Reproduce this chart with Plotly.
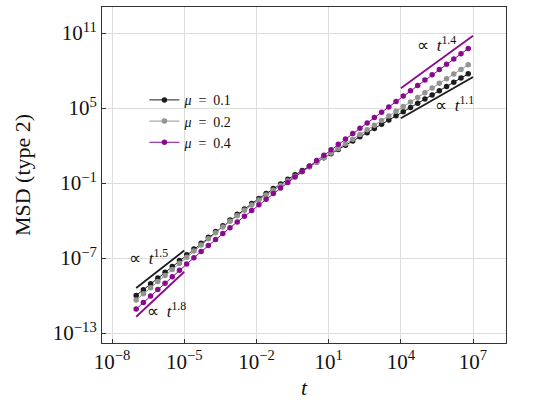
import plotly.graph_objects as go

# log10 of time points
log_t = [-7.0, -6.7, -6.4, -6.1, -5.8, -5.5, -5.2, -4.9, -4.6, -4.3, -4.0, -3.7, -3.4, -3.1,
         -2.8, -2.5, -2.2, -1.9, -1.6, -1.3, -1.0, -0.7, -0.4, -0.1, 0.2, 0.5, 0.8, 1.1,
         1.4, 1.7, 2.0, 2.3, 2.6, 2.9, 3.2, 3.5, 3.8, 4.1, 4.4, 4.7, 5.0, 5.3, 5.6, 5.9,
         6.2, 6.5, 6.8]

# log10 of MSD for each mu
log_msd_01 = [-10.00, -9.54, -9.07, -8.61, -8.14, -7.68, -7.21, -6.75, -6.28, -5.82, -5.35,
              -4.89, -4.42, -3.96, -3.51, -3.08, -2.65, -2.24, -1.84, -1.45, -1.08, -0.71,
              -0.35, 0.00, 0.34, 0.67, 1.01, 1.34, 1.68, 2.02, 2.35, 2.69, 3.02, 3.36, 3.70,
              4.03, 4.37, 4.70, 5.04, 5.38, 5.71, 6.05, 6.39, 6.72, 7.06, 7.39, 7.73]
log_msd_02 = [-10.36, -9.87, -9.38, -8.89, -8.40, -7.92, -7.43, -6.94, -6.45, -5.96, -5.47,
              -4.99, -4.52, -4.07, -3.62, -3.19, -2.77, -2.36, -1.97, -1.58, -1.20, -0.83,
              -0.46, -0.10, 0.27, 0.64, 1.02, 1.39, 1.76, 2.13, 2.50, 2.88, 3.25, 3.62, 3.99,
              4.36, 4.74, 5.11, 5.48, 5.85, 6.22, 6.60, 6.97, 7.34, 7.71, 8.08, 8.46]
log_msd_04 = [-11.08, -10.56, -10.05, -9.53, -9.02, -8.50, -7.98, -7.48, -6.98, -6.49, -6.00,
              -5.52, -5.05, -4.58, -4.12, -3.66, -3.20, -2.75, -2.30, -1.85, -1.41, -0.97,
              -0.53, -0.09, 0.35, 0.79, 1.22, 1.66, 2.09, 2.52, 2.95, 3.37, 3.80, 4.23, 4.66,
              5.09, 5.52, 5.95, 6.38, 6.81, 7.24, 7.66, 8.08, 8.50, 8.92, 9.34, 9.76]

series_names = ["<i>μ</i>\u2002=\u20020.1", "<i>μ</i>\u2002=\u20020.2", "<i>μ</i>\u2002=\u20020.4"]
series_colors = ["#1c1c1c", "#939393", "#8a0a8f"]

# guide (power-law) lines: endpoints
fit_small_logt = [-7.0, -5.0]
fit_t15 = [-9.4, -6.4]
fit_t18 = [-11.7, -8.1]
fit_large_logt = [4.0, 7.0]
fit_t14 = [6.58, 10.78]
fit_t11 = [4.18, 7.48]

# axis ticks
xtick_exp = [-8, -5, -2, 1, 4, 7]
ytick_exp = [-13, -7, -1, 5, 11]


def p10(v):
    return [10 ** e for e in v]


def sup_label(e):
    s = str(e).replace("-", "−")
    return f"10<sup>{s}</sup>"


t = p10(log_t)
fig = go.Figure()

for name, col, vals in zip(series_names, series_colors, [log_msd_01, log_msd_02, log_msd_04]):
    fig.add_trace(go.Scatter(
        x=t, y=p10(vals), mode="lines+markers", name=name,
        line=dict(color=col, width=1),
        marker=dict(color=col, size=5.5, symbol="circle"),
    ))

guides = [
    (fit_small_logt, fit_t15, series_colors[0]),
    (fit_small_logt, fit_t18, series_colors[2]),
    (fit_large_logt, fit_t14, series_colors[2]),
    (fit_large_logt, fit_t11, series_colors[0]),
]
for gx, gy, col in guides:
    fig.add_trace(go.Scatter(x=p10(gx), y=p10(gy), mode="lines", showlegend=False,
                             line=dict(color=col, width=1.8), hoverinfo="skip"))

serif = "Liberation Serif"
annots = [
    (-6.5, -6.9, "∝ \u2009<i>t</i><sup>1.5</sup>"),
    (-5.75, -11.15, "∝ \u2009<i>t</i><sup>1.8</sup>"),
    (5.5, 10.1, "∝ \u2009<i>t</i><sup>1.4</sup>"),
    (6.25, 5.35, "∝ \u2009<i>t</i><sup>1.1</sup>"),
]
for ax, ay, txt in annots:
    fig.add_annotation(x=ax, y=ay, text=txt, showarrow=False,
                       font=dict(family=serif, size=17, color="#111"))

axis_common = dict(
    type="log", showgrid=True, gridcolor="#dcdcdc", gridwidth=1,
    showline=True, linecolor="#333", linewidth=1, mirror=True,
    ticks="inside", ticklen=4, tickcolor="#333", zeroline=False,
    tickfont=dict(family=serif, size=21, color="#111"),
)

fig.update_xaxes(**axis_common, range=[-8.42, 8.37],
                 tickvals=p10(xtick_exp), ticktext=[sup_label(e) for e in xtick_exp],
                 title=dict(text="<i>t</i>", font=dict(family=serif, size=22, color="#111"),
                            standoff=6))
fig.update_yaxes(**axis_common, range=[-13.8, 13.08],
                 tickvals=p10(ytick_exp), ticktext=[sup_label(e) for e in ytick_exp],
                 title=dict(text="MSD (type 2)", font=dict(family=serif, size=22, color="#111"),
                            standoff=16))

fig.update_layout(
    width=540, height=420,
    margin=dict(l=102, r=34, t=7, b=77),
    plot_bgcolor="white", paper_bgcolor="white",
    showlegend=True,
    legend=dict(x=0.105, y=0.77, xanchor="left", yanchor="top",
                bgcolor="rgba(255,255,255,0)", borderwidth=0,
                font=dict(family=serif, size=14, color="#111"),
                tracegroupgap=0, itemwidth=30),
)

fig.write_html("out.html")
